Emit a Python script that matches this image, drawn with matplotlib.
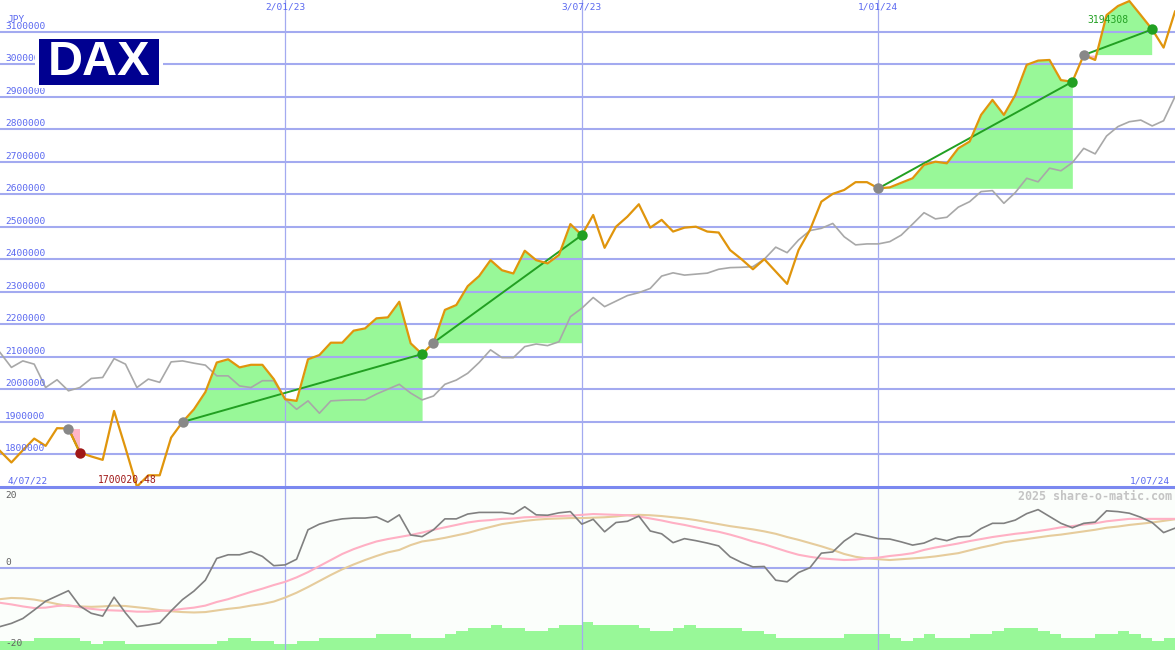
import numpy as np
import pandas as pd
import matplotlib
matplotlib.use('Agg')
import matplotlib.pyplot as plt
import matplotlib.dates as mdates
from matplotlib.patches import Rectangle
from matplotlib.lines import Line2D

# weekly closes, DAX in JPY
dates = pd.date_range('2022-07-11', periods=104, freq='W-MON')
price = [1810000, 1774500, 1812000, 1848000, 1825500, 1880000, 1879000, 1805000, 1793000, 1782500,
         1933000, 1819000, 1700020.48, 1735000, 1735000, 1851000, 1899000, 1938000, 1991000, 2082000,
         2092000, 2067000, 2075000, 2075000, 2031000, 1969000, 1964000, 2092000, 2105000, 2143000,
         2143000, 2180000, 2187000, 2218000, 2221000, 2269000, 2141000, 2108000, 2143000, 2244000,
         2259000, 2317000, 2348000, 2397000, 2366000, 2356000, 2426000, 2397000, 2387000, 2413000,
         2508000, 2474000, 2536000, 2435000, 2500000, 2531000, 2569000, 2497000, 2521000, 2485000,
         2497000, 2500000, 2485000, 2482000, 2428000, 2400000, 2369000, 2400000, 2362000, 2324000,
         2428000, 2490000, 2577000, 2601000, 2613000, 2637000, 2637000, 2618000, 2621000, 2635000,
         2649000, 2690000, 2700000, 2695000, 2741000, 2762000, 2844000, 2890000, 2844000, 2905000,
         2998000, 3011000, 3013000, 2951000, 2946000, 3028000, 3013000, 3151000, 3179000, 3194308,
         3151000, 3107000, 3051000, 3162000]
# comparison index, rescaled onto the price axis
compare = [2113000, 2067000, 2087000, 2077000, 2005000, 2029000, 1995000, 2005000, 2033000, 2036000,
           2094000, 2077000, 2005000, 2031000, 2021000, 2084000, 2087000, 2080000, 2074000, 2041000,
           2041000, 2010000, 2005000, 2026000, 2026000, 1969000, 1938000, 1964000, 1926000, 1964000,
           1966000, 1967000, 1967000, 1985000, 2000000, 2015000, 1988000, 1967000, 1979000, 2015000,
           2028000, 2049000, 2082000, 2121000, 2097000, 2097000, 2131000, 2139000, 2134000, 2146000,
           2223000, 2249000, 2282000, 2254000, 2271000, 2288000, 2297000, 2310000, 2348000, 2358000,
           2351000, 2354000, 2357000, 2369000, 2374000, 2375000, 2377000, 2400000, 2437000, 2420000,
           2459000, 2488000, 2495000, 2510000, 2469000, 2444000, 2447000, 2447000, 2454000, 2474000,
           2508000, 2543000, 2524000, 2529000, 2560000, 2577000, 2608000, 2611000, 2572000, 2605000,
           2649000, 2638000, 2680000, 2672000, 2697000, 2741000, 2724000, 2779000, 2808000, 2823000,
           2828000, 2810000, 2826000, 2900000]
momentum = [-14.6, -13.8, -12.6, -10.5, -8.3, -7.0, -5.7, -9.5, -11.3, -12.0,
            -7.3, -11.2, -14.6, -14.2, -13.7, -10.7, -7.9, -5.8, -3.1, 2.3,
            3.2, 3.2, 4.0, 2.8, 0.5, 0.7, 2.1, 9.4, 10.8, 11.6,
            12.1, 12.3, 12.3, 12.6, 11.3, 13.1, 8.1, 7.7, 9.4, 12.1,
            12.1, 13.3, 13.7, 13.7, 13.7, 13.3, 15.1, 13.1, 13.0, 13.6,
            13.9, 10.8, 12.0, 8.9, 11.2, 11.5, 12.8, 9.1, 8.4, 6.2,
            7.2, 6.7, 6.1, 5.4, 2.7, 1.3, 0.2, 0.3, -3.1, -3.5,
            -1.2, 0.0, 3.6, 3.9, 6.6, 8.5, 7.9, 7.2, 7.1, 6.4,
            5.6, 6.1, 7.3, 6.7, 7.6, 7.8, 9.7, 11.0, 11.0, 11.8,
            13.4, 14.4, 12.7, 11.0, 9.9, 11.0, 11.3, 14.1, 13.9, 13.5,
            12.5, 11.2, 8.7, 9.8]
ma_fast = [-8.7, -9.1, -9.6, -10.0, -9.9, -9.5, -9.3, -9.8, -10.2, -10.5,
           -10.6, -10.7, -10.9, -10.9, -10.7, -10.6, -10.2, -9.9, -9.4, -8.5,
           -7.8, -6.9, -6.0, -5.2, -4.3, -3.5, -2.4, -1.1, 0.4, 1.9,
           3.4, 4.6, 5.6, 6.5, 7.1, 7.6, 8.1, 8.7, 9.4, 10.0,
           10.6, 11.2, 11.6, 11.8, 12.1, 12.2, 12.5, 12.6, 12.7, 12.8,
           12.9, 13.1, 13.3, 13.2, 13.1, 13.0, 12.7, 12.2, 11.7, 11.1,
           10.6, 10.0, 9.4, 8.9, 8.2, 7.4, 6.5, 5.8, 4.9, 4.0,
           3.2, 2.7, 2.3, 2.1, 1.9, 2.0, 2.3, 2.5, 2.9, 3.2,
           3.6, 4.4, 5.0, 5.5, 6.0, 6.6, 7.1, 7.6, 8.0, 8.4,
           8.7, 9.1, 9.5, 10.0, 10.3, 10.7, 11.0, 11.5, 11.8, 12.1,
           12.1, 12.1, 12.1, 12.1]
ma_slow = [-7.8, -7.5, -7.6, -7.9, -8.4, -9.0, -9.5, -9.6, -9.7, -9.6,
           -9.4, -9.5, -9.8, -10.1, -10.5, -10.8, -11.0, -11.1, -11.0, -10.6,
           -10.2, -9.9, -9.4, -9.0, -8.4, -7.4, -6.2, -4.8, -3.3, -1.8,
           -0.4, 0.8, 1.9, 2.9, 3.8, 4.4, 5.6, 6.5, 6.9, 7.4,
           8.0, 8.6, 9.4, 10.1, 10.8, 11.2, 11.6, 11.9, 12.1, 12.2,
           12.3, 12.3, 12.4, 12.5, 12.7, 13.0, 13.1, 13.0, 12.8, 12.5,
           12.2, 11.8, 11.3, 10.8, 10.3, 9.9, 9.5, 9.0, 8.4, 7.6,
           6.9, 6.1, 5.3, 4.4, 3.4, 2.7, 2.3, 2.1, 1.9, 2.1,
           2.3, 2.5, 2.8, 3.2, 3.6, 4.3, 5.0, 5.6, 6.3, 6.7,
           7.1, 7.5, 7.9, 8.2, 8.6, 9.0, 9.4, 9.9, 10.2, 10.6,
           10.9, 11.2, 11.6, 12.0]
volume = [3, 3, 3, 4, 4, 4, 4, 3, 2, 3, 3, 2, 2, 2, 2, 2, 2, 2, 2, 3,
          4, 4, 3, 3, 2, 2, 3, 3, 4, 4, 4, 4, 4, 5, 5, 5, 4, 4, 4, 5,
          6, 7, 7, 8, 7, 7, 6, 6, 7, 8, 8, 9, 8, 8, 8, 8, 7, 6, 6, 7,
          8, 7, 7, 7, 7, 6, 6, 5, 4, 4, 4, 4, 4, 4, 5, 5, 5, 5, 4, 3,
          4, 5, 4, 4, 4, 5, 5, 6, 7, 7, 7, 6, 5, 4, 4, 4, 5, 5, 6, 5,
          4, 3, 4]
trade_entry = [6, 16, 38, 77, 95]
trade_exit = [7, 37, 51, 94, 101]
price_ticks = list(range(1800000, 3100001, 100000))
date_marks = ['2023-01-02', '2023-07-03', '2024-01-01']
date_labels = ['2/01/23', '3/07/23', '1/01/24']

x = mdates.date2num(dates)
price = np.array(price)
compare = np.array(compare)

GRID = '#a3aaf0'
LBL = '#5a68f0'
MONO = 'DejaVu Sans Mono'

fig = plt.figure(figsize=(11.75, 6.5), dpi=100)
ax = fig.add_axes([0, 163 / 650, 1, 487 / 650])
ax2 = fig.add_axes([0, 0, 1, 163 / 650])
for a in (ax, ax2):
    a.set_xticks([])
    a.set_yticks([])
    for s in a.spines.values():
        s.set_visible(False)
    a.set_xlim(x[0], x[-1])
ax.set_ylim(1699000, 3197500)
ax2.set_ylim(-20.4, 20.0)
ax2.set_facecolor('#fbfefb')

# price panel grid + labels
for v in price_ticks:
    ax.axhline(v, color=GRID, lw=1.5, zorder=1.5)
    ax.annotate(str(v), xy=(0, v), xycoords=ax.get_yaxis_transform(), xytext=(5, 1),
                textcoords='offset pixels', ha='left', va='bottom', fontsize=6.8,
                family=MONO, color=LBL, zorder=6)
ax.annotate('JPY', xy=(0, 3100000), xycoords=ax.get_yaxis_transform(), xytext=(7, 8),
            textcoords='offset pixels', ha='left', va='bottom', fontsize=6.8,
            family=MONO, color=LBL, zorder=6)

for d, lab in zip(date_marks, date_labels):
    xd = mdates.date2num(pd.Timestamp(d))
    ax.axvline(xd, color=GRID, lw=0.9, zorder=1.5)
    ax2.axvline(xd, color=GRID, lw=0.9, zorder=1.5)
    ax.annotate(lab, xy=(xd, 1), xycoords=ax.get_xaxis_transform(), xytext=(0, -2),
                textcoords='offset pixels', ha='center', va='top', fontsize=6.8,
                family=MONO, color=LBL)
ax.annotate('4/07/22', xy=(0, 0), xycoords='axes fraction', xytext=(8, 2),
            textcoords='offset pixels', ha='left', va='bottom', fontsize=6.8, family=MONO, color=LBL)
ax.annotate('1/07/24', xy=(1, 0), xycoords='axes fraction', xytext=(-5, 2),
            textcoords='offset pixels', ha='right', va='bottom', fontsize=6.8, family=MONO, color=LBL)

# trades: shaded gain/loss, entry->exit line, dots
for e, q in zip(trade_entry, trade_exit):
    xs = x[e:q + 1]
    ps = price[e:q + 1]
    base = price[e]
    ax.fill_between(xs, base, ps, where=ps >= base, interpolate=True, color='#98f898', lw=0, zorder=1)
    ax.fill_between(xs, base, ps, where=ps < base, interpolate=True, color='#ffb6c8', lw=0, zorder=1)

ax.plot(x, compare, color='#a8a8a8', lw=1.2, zorder=2)

for e, q in zip(trade_entry, trade_exit):
    ax.plot([x[e], x[q]], [price[e], price[q]], color='#22a022', lw=1.4, zorder=2.5)

ax.plot(x, price, color='#e0950c', lw=1.6, zorder=3)

for e, q in zip(trade_entry, trade_exit):
    ax.plot(x[e], price[e], 'o', ms=7.5, color='#888888', mec='none', zorder=5)
    ax.plot(x[q], price[q], 'o', ms=7.5, color='#22a022' if price[q] > price[e] else '#a01818',
            mec='none', zorder=5)

imin = int(np.argmin(price))
imax = int(np.argmax(price))
ax.annotate(f'{price[imin]:.2f}', xy=(x[imin], price[imin]), xytext=(20, 7),
            textcoords='offset pixels', ha='right', va='center', fontsize=7, family=MONO,
            color='#a01818', zorder=6)
ax.annotate(f'{price[imax]:.0f}', xy=(x[imax], price[imax]), xytext=(-1, -19),
            textcoords='offset pixels', ha='right', va='center', fontsize=7, family=MONO,
            color='#22a022', zorder=6)

# indicator panel
ax2.axhline(0, color=GRID, lw=1.5, zorder=1.5)
ax2.bar(x[:-1], np.array(volume) * 0.77, width=7, align='edge', bottom=-20.4,
        color='#98f898', lw=0, zorder=1)
ax2.plot(x, ma_slow, color='#e6cc9c', lw=1.5, zorder=2)
ax2.plot(x, ma_fast, color='#ffb0c4', lw=1.5, zorder=2)
ax2.plot(x, momentum, color='#808080', lw=1.2, zorder=3)
for v, off, va in [(20, -4, 'top'), (0, 1, 'bottom'), (-20.4, 2, 'bottom')]:
    ax2.annotate(str(int(round(v))), xy=(0, v), xycoords=ax2.get_yaxis_transform(), xytext=(5, off),
                 textcoords='offset pixels', ha='left', va=va, fontsize=6.8, family=MONO,
                 color='#606060')
ax2.annotate('2025 share-o-matic.com', xy=(1, 1), xycoords='axes fraction', xytext=(-3, -3),
             textcoords='offset pixels', ha='right', va='top', fontsize=8.4, fontweight='bold',
             family=MONO, color='#c4c4c4')

fig.add_artist(Line2D([0, 1], [163 / 650, 163 / 650], transform=fig.transFigure,
                      color='#7b88f0', lw=2.2, zorder=8))

# logo
fig.add_artist(Rectangle((35 / 1175, 1 - 88 / 650), 128 / 1175, 53 / 650,
                         transform=fig.transFigure, facecolor='white', edgecolor='none', zorder=10))
fig.add_artist(Rectangle((39 / 1175, 1 - 85 / 650), 120 / 1175, 46 / 650,
                         transform=fig.transFigure, facecolor='#000090', edgecolor='none', zorder=11))
fig.text(99 / 1175, 1 - 62.5 / 650, 'DAX', ha='center', va='center', color='white', fontsize=35,
         fontweight='bold', family='Liberation Sans', zorder=12)

fig.savefig('out.png', dpi=100)
